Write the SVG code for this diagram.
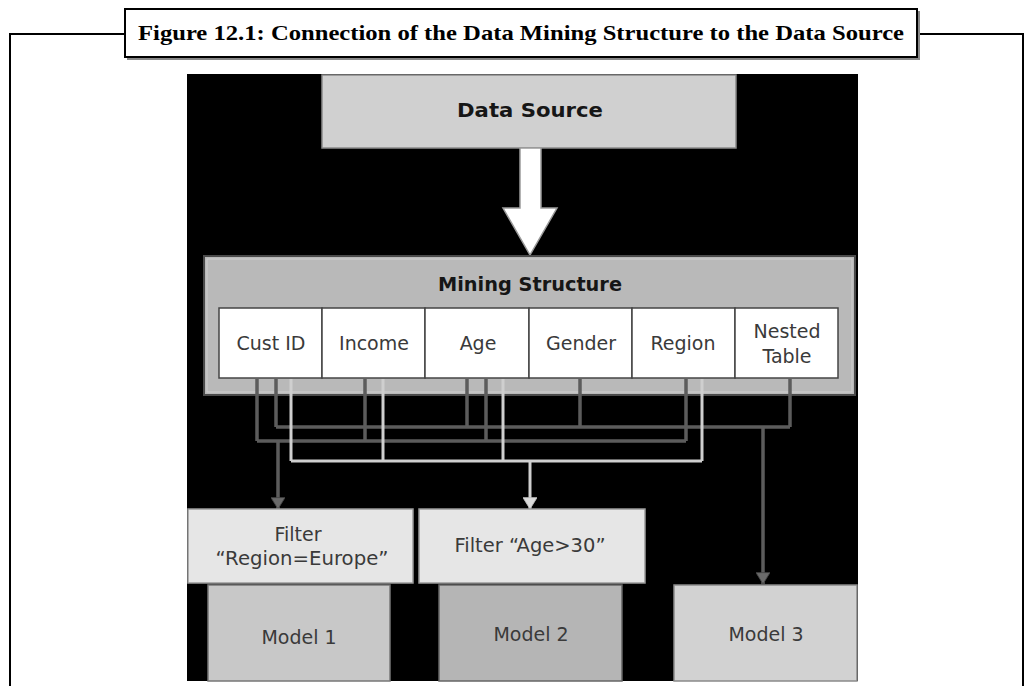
<svg xmlns="http://www.w3.org/2000/svg" width="1032" height="686" viewBox="0 0 1032 686">
<defs>
<style>
.frame{stroke:#000;stroke-width:2;fill:none}
.lbl{font-family:"DejaVu Sans","Liberation Sans",sans-serif;font-size:19px;fill:#3a3a3a;text-anchor:middle}
.bold{font-family:"DejaVu Sans","Liberation Sans",sans-serif;font-size:19px;font-weight:bold;fill:#161616;text-anchor:middle}
.cell{fill:#fff;stroke:#444;stroke-width:1.5}
.dk{stroke:#5c5c5c;stroke-width:3.5;fill:none}
.lt{stroke:#cfcfcf;stroke-width:3;fill:none}
</style>
<marker id="ahDk" markerUnits="userSpaceOnUse" markerWidth="18" markerHeight="14" refX="13" refY="8" orient="auto" viewBox="0 0 14 16">
<path d="M0,0 L13,8 L0,16 Z" fill="#6a6a6a" stroke="#444" stroke-width="1"/>
</marker>
<marker id="ahLt" markerUnits="userSpaceOnUse" markerWidth="18" markerHeight="14" refX="13" refY="8" orient="auto" viewBox="0 0 14 16">
<path d="M0,0 L13,8 L0,16 Z" fill="#dadada" stroke="#bbb" stroke-width="1"/>
</marker>
</defs>
<rect width="1032" height="686" fill="#fff"/>

<g id="frame">
<path class="frame" d="M10,686 V34 H124 M918,34 H1023 V686"/>
<rect x="125" y="9" width="792" height="48" fill="#fff" stroke="#000" stroke-width="2"/>
<path d="M919,11 V59 H127" stroke="#888" stroke-width="2" fill="none"/>
<text x="521" y="40" font-family="Liberation Serif,serif" font-weight="bold" font-size="21" fill="#000" text-anchor="middle" textLength="766" lengthAdjust="spacingAndGlyphs">Figure 12.1: Connection of the Data Mining Structure to the Data Source</text>
</g>

<rect x="187" y="74" width="671" height="607" fill="#000"/>

<g id="data-source">
<rect x="322" y="75" width="414" height="73" fill="#d0d0d0" stroke="#8a8a8a" stroke-width="1.5"/>
<text class="bold" x="530" y="117" textLength="146" lengthAdjust="spacingAndGlyphs">Data Source</text>
</g>

<g id="big-arrow">
<path d="M520,148 H541 V208 H557 L530,255 L503,208 H520 Z" fill="#fff" stroke="#9a9a9a" stroke-width="1.5"/>
</g>

<g id="mining-structure">
<rect x="204" y="256" width="651" height="139" fill="#b9b9b9" stroke="#4a4a4a" stroke-width="2"/>
<rect x="207" y="259" width="645" height="133" fill="none" stroke="#d0d0d0" stroke-width="1"/>
<text class="bold" x="530" y="291" textLength="184" lengthAdjust="spacingAndGlyphs">Mining Structure</text>
</g>

<g id="cell-custid"><rect class="cell" x="219" y="308" width="103" height="70"/><text class="lbl" x="271" y="350">Cust ID</text></g>
<g id="cell-income"><rect class="cell" x="322" y="308" width="103" height="70"/><text class="lbl" x="374" y="350">Income</text></g>
<g id="cell-age"><rect class="cell" x="425" y="308" width="104" height="70"/><text class="lbl" x="478" y="350">Age</text></g>
<g id="cell-gender"><rect class="cell" x="529" y="308" width="103" height="70"/><text class="lbl" x="581" y="350">Gender</text></g>
<g id="cell-region"><rect class="cell" x="632" y="308" width="103" height="70"/><text class="lbl" x="683" y="350">Region</text></g>
<g id="cell-nested"><rect class="cell" x="735" y="308" width="103" height="70"/><text class="lbl" x="787" y="338">Nested</text><text class="lbl" x="787" y="363">Table</text></g>

<g id="connectors">
<path class="dk" d="M276,379 V427 M467,379 V427 M580,379 V427 M790,379 V427 M276,427 H790"/>
<path class="dk" d="M257,379 V441 M365,379 V441 M486,379 V441 M686,379 V441 M257,441 H686"/>
<path class="lt" d="M291,379 V461 M383,379 V461 M503,379 V461 M702,379 V461 M291,461 H702"/>
<path class="dk" d="M763,427 V584" marker-end="url(#ahDk)"/>
<path class="dk" d="M278,441 V509" marker-end="url(#ahDk)"/>
<path class="lt" d="M530,461 V509" marker-end="url(#ahLt)"/>
</g>

<g id="filter-region">
<rect x="188" y="509" width="225" height="74" fill="#e6e6e6" stroke="#9a9a9a" stroke-width="1.5"/>
<text class="lbl" x="298" y="541">Filter</text>
<text class="lbl" x="302" y="565" textLength="173" lengthAdjust="spacingAndGlyphs">“Region=Europe”</text>
</g>
<g id="filter-age">
<rect x="419" y="509" width="226" height="74" fill="#e6e6e6" stroke="#9a9a9a" stroke-width="1.5"/>
<text class="lbl" x="530" y="552" textLength="151" lengthAdjust="spacingAndGlyphs">Filter “Age&gt;30”</text>
</g>

<g id="model1">
<rect x="208" y="585" width="182" height="96" fill="#c8c8c8" stroke="#777" stroke-width="1.5"/>
<text class="lbl" x="299" y="644">Model 1</text>
</g>
<g id="model2">
<rect x="439" y="585" width="183" height="96" fill="#b5b5b5" stroke="#666" stroke-width="1.5"/>
<text class="lbl" x="531" y="641">Model 2</text>
</g>
<g id="model3">
<rect x="674" y="585" width="183" height="96" fill="#d2d2d2" stroke="#8a8a8a" stroke-width="1.5"/>
<text class="lbl" x="766" y="641">Model 3</text>
</g>
</svg>
